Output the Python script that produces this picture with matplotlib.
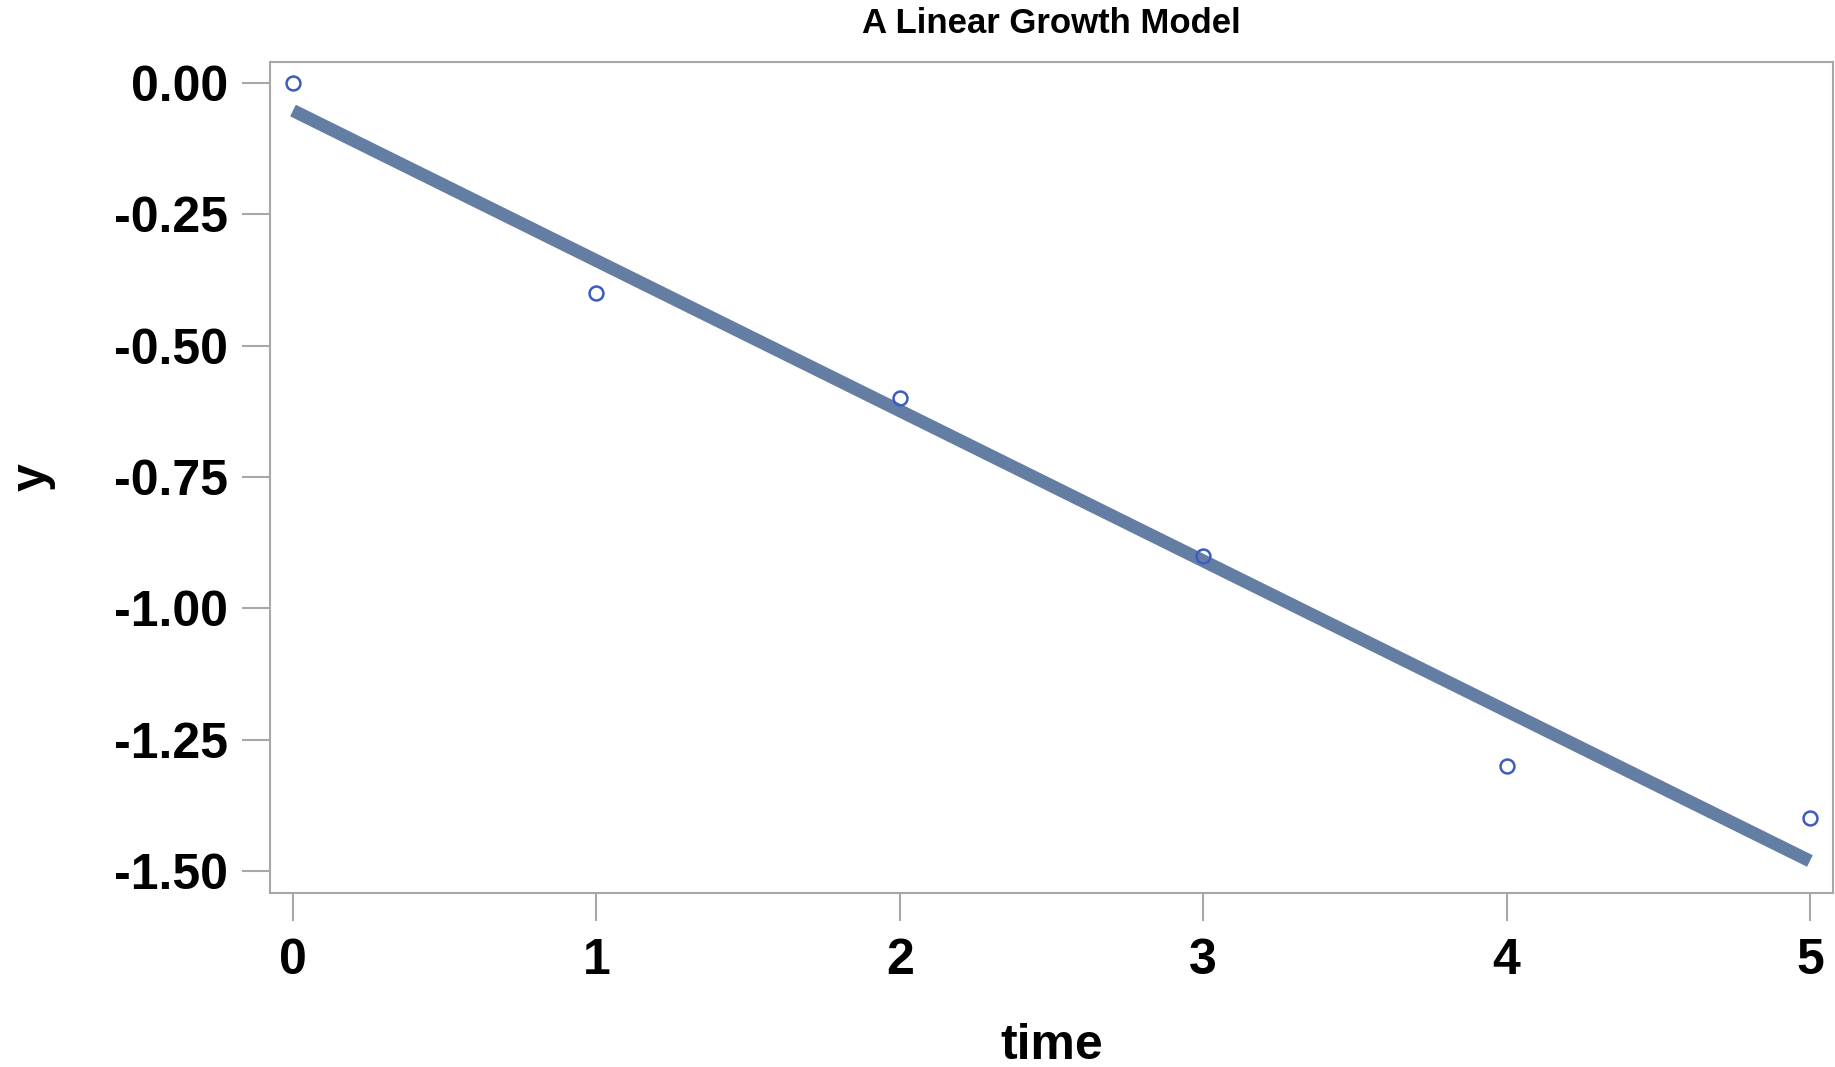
import numpy as np
import matplotlib
matplotlib.use("Agg")
import matplotlib.pyplot as plt

# Observed data
time = [0, 1, 2, 3, 4, 5]
y = [0.0, -0.4, -0.6, -0.9, -1.3, -1.4]

x_ticks = [0, 1, 2, 3, 4, 5]
y_ticks = [0.0, -0.25, -0.5, -0.75, -1.0, -1.25, -1.5]

plt.rcParams['font.family'] = ['Liberation Sans', 'DejaVu Sans']

fig = plt.figure(figsize=(18.35, 10.67), dpi=100)
ax = fig.add_axes([0.1471, 0.163, 0.8518, 0.7789])

# Linear fit line
slope, intercept = np.polyfit(time, y, 1)
t_fit = np.array([min(time), max(time)])
ax.plot(t_fit, intercept + slope * t_fit, color='#647ea3', lw=9.3,
        solid_capstyle='butt', zorder=2)

# Observed points
ax.plot(time, y, linestyle='none', marker='o', ms=10, mfc='none',
        mec='#3b5cc0', mew=1.8, zorder=3)

ax.set_xlim(-0.076, 5.076)
ax.set_ylim(-1.542, 0.04)
ax.set_xticks(x_ticks)
ax.set_yticks(y_ticks)
ax.set_xticklabels([str(v) for v in x_ticks])
ax.set_yticklabels([f"{v:.2f}" for v in y_ticks])

for sp in ax.spines.values():
    sp.set_color('#a4a8ac')
    sp.set_linewidth(1.5)

ax.tick_params(axis='both', direction='out', length=20, width=1.5,
               color='#a8a8a8', labelsize=36)
ax.tick_params(axis='x', pad=12)
ax.tick_params(axis='y', pad=10)
for lbl in ax.get_xticklabels() + ax.get_yticklabels():
    lbl.set_fontweight('bold')

ax.set_xlabel('time', fontsize=36, fontweight='bold')
ax.set_ylabel('y', fontsize=36, fontweight='bold')
ax.xaxis.set_label_coords(0.5, -0.184)
ax.yaxis.set_label_coords(-0.1516, 0.5)
ax.xaxis.label.set_va('center')
ax.yaxis.label.set_va('center')

ax.set_title('A Linear Growth Model', fontsize=25, fontweight='bold', pad=21)

fig.savefig('out.png', dpi=100)
